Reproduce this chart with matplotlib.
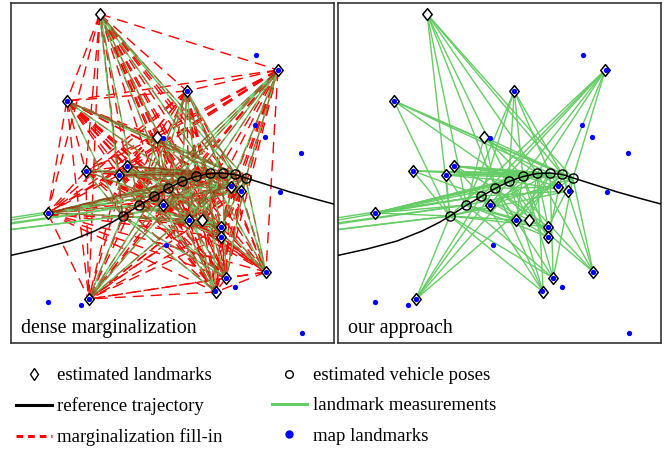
import matplotlib
matplotlib.use("Agg")
import matplotlib.pyplot as plt
from matplotlib.lines import Line2D
from matplotlib.path import Path

plt.rcParams['font.family'] = ['Liberation Serif', 'DejaVu Serif']

# Estimated landmark positions (last two lie outside the plotted area)
est_lm_x = [89, 267, 176, 56, 146, 75, 116, 108, 220, 230,
            37, 152, 178, 191, 210, 210, 255, 215, 205, 78, -197, -411]
est_lm_y = [329, 273, 252, 242, 206, 172, 177, 168, 156, 152,
            130, 138, 123, 123, 116, 106, 71, 65, 51, 44, 90, 63]

# Map landmark positions
map_lm_x = [267.3, 175.7, 56.3, 152.3, 75.0, 115.7, 107.7, 219.7, 230.3, 37.3,
            152.3, 178.3, 209.7, 209.7, 254.7, 215.0, 204.0, 78.3,
            245, 244, 254, 290, 269, 155, 224, 37, 70, 291]
map_lm_y = [273.0, 252.3, 242.0, 204.7, 171.7, 177.0, 168.0, 157.0, 152.3, 130.3,
            138.0, 123.0, 116.3, 105.7, 71.3, 65.3, 52.0, 44.0,
            288, 218, 206, 190, 151, 98, 56, 41, 38, 10]

# Estimated vehicle poses
pose_x = [111.7, 128.3, 143.0, 157.3, 170.7, 184.7, 199.0, 211.7, 224.0, 234.7]
pose_y = [127.0, 138.0, 147.0, 154.7, 162.0, 167.0, 169.7, 169.7, 168.7, 164.7]

# Reference trajectory
traj_x = [-5, 29, 59, 84, 101, 112, 128, 143, 157, 171, 185,
          199, 212, 224, 235, 254, 279, 304, 330]
traj_y = [86.5, 94, 102, 112, 120.5, 127, 137.5, 146.5, 154.5, 161.5, 166.5,
          169.5, 170, 168.5, 165, 159, 151, 144, 137]

# Landmark index -> indices of the poses that observe it
measurements = {
    0: [0, 1, 3, 4, 6, 8, 9],
    1: [0, 2, 3, 5, 6, 8, 9],
    2: [1, 2, 4, 5, 7, 8],
    3: [0, 4, 7, 8, 9],
    4: [1, 3, 5, 6, 9],
    5: [0, 2, 7, 8, 9],
    6: [2, 3, 5, 6, 7, 8, 9],
    7: [0, 1, 4, 6, 7, 8, 9],
    8: [1, 3, 5, 7, 9],
    9: [0, 2, 4, 6, 8],
    10: [0, 1, 2, 3, 4, 5, 6, 7],
    11: [0, 2, 4, 6, 7, 9],
    12: [0, 1, 3, 5, 7, 8],
    13: [2, 4, 6, 7],
    14: [0, 1, 3, 6, 9],
    15: [1, 2, 4, 5, 8],
    16: [3, 4, 6, 8, 9],
    17: [0, 1, 3, 5, 7, 9],
    18: [0, 2, 3, 4, 6],
    19: [0, 2, 3, 5, 8],
    20: [0, 1, 2],
    21: [0, 1, 2],
}

# Landmarks that become fully connected after dense marginalization
fill_in_landmarks = list(range(20))

GREEN = '#66cc66'
DASH = (8, 5)
diamond = Path([(0, 1), (0.8, 0), (0, -1), (-0.8, 0), (0, 1)],
               [Path.MOVETO, Path.LINETO, Path.LINETO, Path.LINETO, Path.CLOSEPOLY])

fig = plt.figure(figsize=(6.64, 4.49), dpi=100)
ax_l = fig.add_axes([10.7 / 664, 106 / 449, 323.3 / 664, 340 / 449])
ax_r = fig.add_axes([338 / 664, 106 / 449, 323.3 / 664, 340 / 449])


def draw_panel(ax, dense, label):
    # measurement edges between poses and landmarks
    for li, poses in measurements.items():
        for pi in poses:
            ax.plot([pose_x[pi], est_lm_x[li]], [pose_y[pi], est_lm_y[li]],
                    color=GREEN, lw=1.0, zorder=2)
    if dense:
        # fill-in between every pair of landmarks
        for a in range(len(fill_in_landmarks)):
            for b in range(a + 1, len(fill_in_landmarks)):
                i, j = fill_in_landmarks[a], fill_in_landmarks[b]
                ax.plot([est_lm_x[i], est_lm_x[j]], [est_lm_y[i], est_lm_y[j]],
                        color='red', lw=1.0, dashes=DASH, zorder=1)
        # fill-in between remaining poses and landmarks
        for li, poses in measurements.items():
            if li not in fill_in_landmarks:
                continue
            for pi in poses:
                ax.plot([pose_x[pi], est_lm_x[li]], [pose_y[pi], est_lm_y[li]],
                        color='#b01000', alpha=0.45, lw=1.0, dashes=DASH, zorder=3)
    ax.plot(traj_x, traj_y, color='black', lw=1.1, zorder=4)
    ax.plot(est_lm_x, est_lm_y, ls='none', marker=diamond, ms=8.5,
            mfc='white', mec='black', mew=1.1, zorder=5)
    ax.plot(map_lm_x, map_lm_y, ls='none', marker='o', ms=3.8,
            mfc='blue', mec='blue', mew=0, zorder=6)
    ax.plot(pose_x, pose_y, ls='none', marker='o', ms=6.6,
            mfc='none', mec='black', mew=1.0, zorder=7)
    ax.set_xlim(0, 323)
    ax.set_ylim(0, 340)
    ax.set_xticks([])
    ax.set_yticks([])
    for s in ax.spines.values():
        s.set_color('#333333')
        s.set_linewidth(1.2)
    ax.text(0.031, 0.03, label, transform=ax.transAxes, fontsize=14.4,
            ha='left', va='baseline', zorder=10)


draw_panel(ax_l, True, 'dense marginalization')
draw_panel(ax_r, False, 'our approach')

handles = [
    Line2D([], [], ls='none', marker='d', ms=6, mfc='none', mec='black', mew=1.0),
    Line2D([], [], color='black', lw=2.2),
    Line2D([], [], color='red', lw=2.2, dashes=(2.2, 1.6)),
    Line2D([], [], ls='none', marker='o', ms=5.5, mfc='none', mec='black', mew=1.0),
    Line2D([], [], color=GREEN, lw=2.2),
    Line2D([], [], ls='none', marker='o', ms=5, mfc='blue', mec='blue'),
]
labels = ['estimated landmarks', 'reference trajectory', 'marginalization fill-in',
          'estimated vehicle poses', 'landmark measurements', 'map landmarks']
fig.legend(handles, labels, ncol=2, loc='upper left', bbox_to_anchor=(16 / 664, 1 - 367 / 449),
           frameon=False, fontsize=13.5, handlelength=1.9, handletextpad=0.3,
           columnspacing=2.6, labelspacing=0.7, borderpad=0, borderaxespad=0)

fig.savefig('out.png', dpi=100)
